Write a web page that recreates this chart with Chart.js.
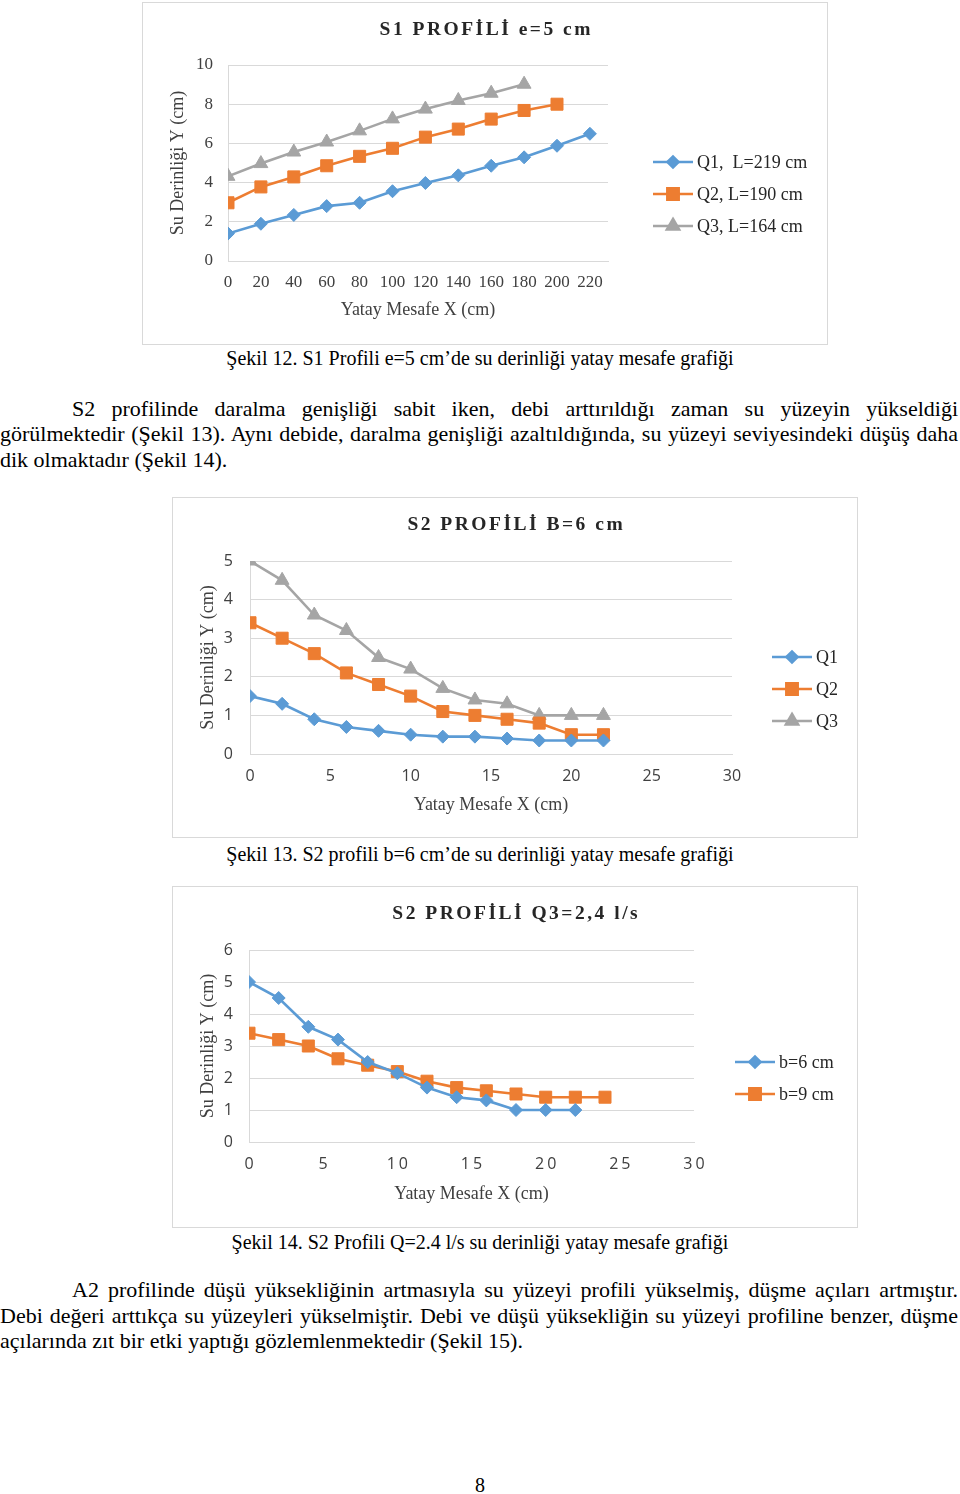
<!DOCTYPE html>
<html>
<head>
<meta charset="utf-8">
<script src="https://cdn.jsdelivr.net/npm/chart.js@4"></script>
<style>
  html, body { margin:0; padding:0; background:#fff; }
  body { width:960px; height:1494px; position:relative; overflow:hidden; font-family:"Liberation Serif", serif; color:#000; }
  .box { position:absolute; border:1px solid #d9d9d9; background:#fff; }
  .box canvas { display:block; }
  .cap { position:absolute; left:0; width:960px; text-align:center; font-size:20px; line-height:26px; }
  .cap span { display:inline-block; }
  .jl { position:absolute; font-size:22px; line-height:26px; text-align:justify; text-align-last:justify; white-space:nowrap; }
  .ll { position:absolute; font-size:22px; line-height:26px; white-space:nowrap; }
</style>
</head>
<body>

<div class="box" style="left:142px;top:2px;width:684px;height:341px;"><canvas id="c1" width="684" height="341"></canvas></div>
<div class="cap" style="top:345px;"><span>Şekil 12. S1 Profili e=5 cm’de su derinliği yatay mesafe grafiği</span></div>

<div class="jl" style="left:72px;top:396px;width:886px;">S2 profilinde daralma genişliği sabit iken, debi arttırıldığı zaman su yüzeyin yükseldiği</div>
<div class="jl" style="left:0px;top:421px;width:958px;">görülmektedir (Şekil 13). Aynı debide, daralma genişliği azaltıldığında, su yüzeyi seviyesindeki düşüş daha</div>
<div class="ll" style="left:0px;top:447px;">dik olmaktadır (Şekil 14).</div>

<div class="box" style="left:172px;top:497px;width:684px;height:339px;"><canvas id="c2" width="684" height="339"></canvas></div>
<div class="cap" style="top:841px;"><span>Şekil 13. S2 profili b=6 cm’de su derinliği yatay mesafe grafiği</span></div>

<div class="box" style="left:172px;top:886px;width:684px;height:340px;"><canvas id="c3" width="684" height="340"></canvas></div>
<div class="cap" style="top:1229px;"><span>Şekil 14. S2 Profili Q=2.4 l/s su derinliği yatay mesafe grafiği</span></div>

<div class="jl" style="left:72px;top:1277px;width:886px;">A2 profilinde düşü yüksekliğinin artmasıyla su yüzeyi profili yükselmiş, düşme açıları artmıştır.</div>
<div class="jl" style="left:0px;top:1303px;width:958px;">Debi değeri arttıkça su yüzeyleri yükselmiştir. Debi ve düşü yüksekliğin su yüzeyi profiline benzer, düşme</div>
<div class="ll" style="left:0px;top:1328px;">açılarında zıt bir etki yaptığı gözlemlenmektedir (Şekil 15).</div>

<div class="cap" style="top:1472px;"><span>8</span></div>

<script>
// ---------- DATA ----------
// Chart 1: S1 PROFİLİ e=5 cm
const s1X = [0, 20, 40, 60, 80, 100, 120, 140, 160, 180, 200, 220];
const s1Q1 = [1.4, 1.9, 2.35, 2.8, 2.97, 3.56, 3.98, 4.37, 4.86, 5.29, 5.88, 6.49];
const s1Q2 = [2.97, 3.78, 4.29, 4.86, 5.34, 5.75, 6.32, 6.73, 7.24, 7.68, 8.0];
const s1Q3 = [4.32, 4.97, 5.56, 6.07, 6.64, 7.25, 7.75, 8.19, 8.56, 9.02];
const s1Labels = ['Q1,  L=219 cm', 'Q2, L=190 cm', 'Q3, L=164 cm'];

// Chart 2: S2 PROFİLİ B=6 cm
const s2X = [0, 2, 4, 6, 8, 10, 12, 14, 16, 18, 20, 22];
const s2Q1 = [1.5, 1.3, 0.9, 0.7, 0.6, 0.5, 0.45, 0.45, 0.4, 0.35, 0.35, 0.35];
const s2Q2 = [3.4, 3.0, 2.6, 2.1, 1.8, 1.5, 1.1, 1.0, 0.9, 0.8, 0.5, 0.5];
const s2Q3 = [5.0, 4.5, 3.6, 3.2, 2.5, 2.2, 1.7, 1.4, 1.3, 1.0, 1.0, 1.0];
const s2Labels = ['Q1', 'Q2', 'Q3'];

// Chart 3: S2 PROFİLİ Q3=2,4 l/s
const s3X = [0, 2, 4, 6, 8, 10, 12, 14, 16, 18, 20, 22, 24];
const s3B6 = [5.0, 4.5, 3.6, 3.2, 2.5, 2.15, 1.7, 1.4, 1.3, 1.0, 1.0, 1.0];
const s3B9 = [3.4, 3.2, 3.0, 2.6, 2.4, 2.2, 1.9, 1.7, 1.6, 1.5, 1.4, 1.4, 1.4];
const s3Labels = ['b=6 cm', 'b=9 cm'];

const titles = ['S1 PROFİLİ e=5 cm', 'S2 PROFİLİ B=6 cm', 'S2 PROFİLİ Q3=2,4 l/s'];
const yTitle = 'Su Derinliği Y (cm)';
const xTitle = 'Yatay Mesafe X (cm)';

// ---------- STYLE ----------
const BLUE = '#5B9BD5', ORANGE = '#ED7D31', GRAY = '#A5A5A5';
const GRID = '#d9d9d9';
const SERIF = '"Liberation Serif", "Times New Roman", serif';
const SANS = '"Open Sans", "Noto Sans", sans-serif';

function pts(xs, ys) { return ys.map((y, i) => ({ x: xs[i], y: y })); }

function ds(label, xs, ys, color, style, r) {
  return {
    label: label, data: pts(xs, ys),
    borderColor: color, backgroundColor: color,
    pointBackgroundColor: color, pointBorderColor: color,
    borderWidth: 2.6, pointStyle: style, pointRadius: r, pointHoverRadius: r,
    pointBorderWidth: 1, tension: 0
  };
}

const titlePlugin = {
  id: 'pageTitle',
  afterDraw(chart, args, opts) {
    const ctx = chart.ctx;
    ctx.save();
    ctx.font = 'bold 19.5px ' + SERIF;
    ctx.letterSpacing = opts.spacing + 'px';
    ctx.fillStyle = '#262626';
    ctx.textAlign = 'center';
    ctx.textBaseline = 'middle';
    ctx.fillText(opts.text, chart.width / 2 + opts.spacing / 2, opts.y);
    ctx.restore();
  }
};

const xSpacingPlugin = {
  id: 'xSpacing',
  afterLayout(chart, args, opts) {
    const s = chart.scales.x;
    if (!opts.ls || s._lsWrapped) return;
    const orig = s.drawLabels.bind(s);
    s.drawLabels = function (ca) {
      const c = this.ctx;
      c.save();
      c.letterSpacing = opts.ls + 'px';
      c.translate(opts.ls / 2, 0);
      orig(ca);
      c.restore();
    };
    s._lsWrapped = true;
  }
};

const legendPlugin = {
  id: 'lineLegend',
  afterDraw(chart, args, opts) {
    const ctx = chart.ctx;
    chart.data.datasets.forEach((d, i) => {
      const y = opts.ys[i];
      ctx.save();
      ctx.strokeStyle = d.borderColor;
      ctx.lineWidth = 2.6;
      ctx.beginPath();
      ctx.moveTo(opts.x, y);
      ctx.lineTo(opts.x + opts.len, y);
      ctx.stroke();
      ctx.fillStyle = d.borderColor;
      Chart.helpers.drawPoint(ctx, { pointStyle: d.pointStyle, radius: opts.r[i], rotation: 0, borderWidth: 1 }, opts.x + opts.len / 2, y);
      ctx.fill();
      ctx.fillStyle = '#262626';
      ctx.font = opts.fontSize + 'px ' + SERIF;
      ctx.textBaseline = 'middle';
      ctx.textAlign = 'left';
      ctx.fillText(d.label, opts.x + opts.len + 4, y + 1);
      ctx.restore();
    });
  }
};

function makeChart(id, cfg) {
  const el = document.getElementById(id);
  const W = el.width, H = el.height;
  return new Chart(el, {
    type: 'line',
    data: { datasets: cfg.datasets },
    plugins: [xSpacingPlugin, titlePlugin, legendPlugin],
    options: {
      responsive: false, animation: false, devicePixelRatio: 1,
      layout: { padding: { left: 0, top: cfg.area.top, right: W - cfg.area.right, bottom: 0 } },
      plugins: {
        legend: { display: false }, tooltip: { enabled: false },
        pageTitle: { text: cfg.title, y: 27, spacing: 2.5 },
        lineLegend: cfg.legend,
        xSpacing: { ls: cfg.xLetterSpacing || 0 }
      },
      scales: {
        x: {
          type: 'linear', min: 0, max: cfg.xMax,
          afterFit: s => { s.height = H - cfg.area.bottom; },
          grid: { display: false, drawTicks: false },
          border: { display: true, color: GRID, width: 1 },
          ticks: { stepSize: cfg.xStep, includeBounds: false, padding: cfg.xPad,
                   font: cfg.tickFont, color: '#404040', maxRotation: 0, autoSkip: false },
          title: { display: true, text: xTitle, font: { family: SERIF, size: 18 }, color: '#404040', padding: { top: 0, bottom: cfg.xTitlePad } }
        },
        y: {
          type: 'linear', min: 0, max: cfg.yMax,
          afterFit: s => { s.width = cfg.area.left; },
          grid: { color: GRID, lineWidth: 1, drawTicks: false },
          border: { display: true, color: GRID, width: 1 },
          ticks: { stepSize: cfg.yStep, padding: cfg.yPad, font: cfg.tickFont, color: '#404040' },
          title: { display: true, text: yTitle, font: { family: SERIF, size: 18 }, color: '#404040', padding: { top: cfg.yTitlePad, bottom: 0 } }
        }
      }
    }
  });
}

makeChart('c1', {
  title: titles[0],
  datasets: [
    ds(s1Labels[0], s1X, s1Q1, BLUE, 'rectRot', 6.5),
    ds(s1Labels[1], s1X, s1Q2, ORANGE, 'rect', 8.5),
    ds(s1Labels[2], s1X, s1Q3, GRAY, 'triangle', 8)
  ],
  area: { left: 85, right: 465, top: 62, bottom: 258 },
  xMax: 231, xStep: 20, yMax: 10, yStep: 2,
  tickFont: { family: SERIF, size: 17 },
  xPad: 11, yPad: 15, xTitlePad: 23, yTitlePad: 24,
  legend: { x: 510, len: 40, ys: [159, 191, 223], r: [5.5, 8, 7], fontSize: 18 }
});

makeChart('c2', {
  title: titles[1],
  datasets: [
    ds(s2Labels[0], s2X, s2Q1, BLUE, 'rectRot', 6.5),
    ds(s2Labels[1], s2X, s2Q2, ORANGE, 'rect', 8.5),
    ds(s2Labels[2], s2X, s2Q3, GRAY, 'triangle', 8)
  ],
  area: { left: 77, right: 559, top: 63, bottom: 256 },
  xMax: 30, xStep: 5, yMax: 5, yStep: 1,
  tickFont: { family: SANS, size: 16 },
  xPad: 13, yPad: 17, xTitlePad: 21, yTitlePad: 24,
  legend: { x: 599, len: 40, ys: [159, 191, 223], r: [5.5, 8, 7], fontSize: 18 }
});

makeChart('c3', {
  title: titles[2],
  datasets: [
    ds(s3Labels[0], s3X, s3B6, BLUE, 'rectRot', 6.5),
    ds(s3Labels[1], s3X, s3B9, ORANGE, 'rect', 8.5)
  ],
  area: { left: 76, right: 521, top: 63, bottom: 255 },
  xMax: 30, xStep: 5, yMax: 6, yStep: 1,
  xLetterSpacing: 3,
  tickFont: { family: SANS, size: 16 },
  xPad: 13, yPad: 16, xTitlePad: 22, yTitlePad: 24,
  legend: { x: 562, len: 40, ys: [175, 207], r: [5.5, 8], fontSize: 18 }
});
</script>
</body>
</html>
